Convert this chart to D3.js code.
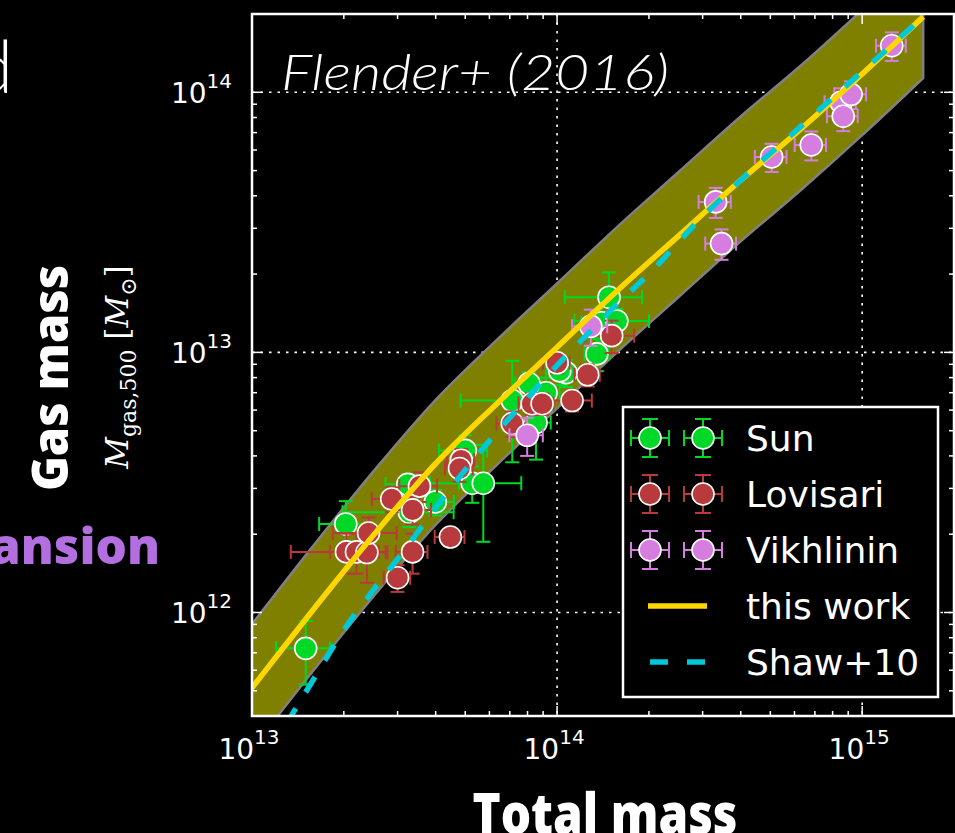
<!DOCTYPE html>
<html>
<head>
<meta charset="utf-8">
<script src="https://cdn.jsdelivr.net/npm/d3@7/dist/d3.min.js"></script>
<style>
html, body { margin: 0; padding: 0; background: #000; }
svg { display: block; }
</style>
</head>
<body>
<svg id="chart" width="955" height="833"></svg>
<script>
// axis limits and tick labels
var xDomain = [1e13, 2e15];
var yDomain = [4e11, 2e14];
var xTickExp = ["13", "14", "15"];
var yTickExp = ["12", "13", "14"];

// Sun et al. (green)
var sunM      = [1.50e13, 2.03e13, 3.24e13, 3.28e13, 3.99e13, 5.00e13, 5.27e13, 5.73e13, 7.13e13, 8.53e13, 9.20e13, 8.09e13, 1.07e14, 1.02e14, 1.35e14, 1.40e14, 1.48e14, 1.57e14];
var sunMgas   = [7.28e11, 2.19e12, 3.11e12, 2.43e12, 2.66e12, 4.20e12, 3.14e12, 3.14e12, 6.53e12, 5.37e12, 7.00e12, 7.59e12, 8.36e12, 8.49e12, 9.87e12, 1.30e13, 1.63e13, 1.32e13];
var sunMerr   = [0.30e13, 0.37e13, 0.50e13, 1.30e13, 0.60e13, 0.90e13, 0.50e13, 1.90e13, 2.30e13, 1.00e13, 1.00e13, 0.80e13, 1.50e13, 1.00e13, 1.20e13, 2.00e13, 4.20e13, 4.30e13];
var sunMgasErr= [0.20e12, 0.49e12, 0.30e12, 0.30e12, 0.30e12, 0.60e12, 0.50e12, 1.27e12, 2.75e12, 1.50e12, 1.00e12, 0.80e12, 1.00e12, 1.00e12, 1.40e12, 2.00e12, 4.00e12, 1.50e12];

// Lovisari et al. (red)
var lovM      = [2.04e13, 2.20e13, 2.38e13, 2.41e13, 2.87e13, 3.36e13, 3.54e13, 3.36e13, 3.00e13, 4.47e13, 4.85e13, 4.79e13, 7.13e13, 8.28e13, 8.93e13, 1.12e14, 1.26e14, 1.00e14, 1.51e14];
var lovMgas   = [1.71e12, 1.71e12, 1.70e12, 2.02e12, 2.73e12, 2.48e12, 3.06e12, 1.71e12, 1.36e12, 1.95e12, 3.85e12, 3.58e12, 5.33e12, 6.35e12, 6.35e12, 6.53e12, 8.20e12, 9.12e12, 1.16e13];
var lovMerr   = [0.70e13, 0.40e13, 0.40e13, 0.57e13, 0.40e13, 0.50e13, 0.50e13, 0.40e13, 0.30e13, 0.50e13, 0.50e13, 0.50e13, 0.80e13, 0.80e13, 0.80e13, 1.80e13, 1.20e13, 1.00e13, 2.80e13];
var lovMgasErr= [0.30e12, 0.30e12, 0.40e12, 0.30e12, 0.30e12, 0.30e12, 0.40e12, 0.30e12, 0.16e12, 0.10e12, 0.40e12, 0.40e12, 0.60e12, 0.60e12, 0.60e12, 0.60e12, 0.80e12, 0.80e12, 1.65e12];

// Vikhlinin et al. (violet)
var vikM      = [7.98e13, 1.29e14, 3.31e14, 3.46e14, 5.05e14, 6.81e14, 8.53e14, 8.67e14, 9.20e14, 1.25e15];
var vikMgas   = [4.80e12, 1.26e13, 3.79e13, 2.62e13, 5.64e13, 6.27e13, 9.16e13, 8.09e13, 9.82e13, 1.51e14];
var vikMerr   = [0.10e14, 0.17e14, 0.40e14, 0.40e14, 0.60e14, 0.80e14, 1.00e14, 1.00e14, 1.10e14, 1.40e14];
var vikMgasErr= [0.80e12, 0.20e13, 0.50e13, 0.35e13, 0.70e13, 0.80e13, 1.20e13, 1.00e13, 1.20e13, 1.90e13];

// this work: median relation and scatter band
var workM     = [7.94e12, 1.00e13, 1.585e13, 2.512e13, 3.981e13, 6.31e13, 1.00e14, 1.585e14, 2.512e14, 3.981e14, 6.31e14, 1.00e15, 1.585e15];
var workMgas  = [3.63e11, 5.13e11, 1.023e12, 1.995e12, 3.715e12, 6.31e12, 1.047e13, 1.738e13, 2.818e13, 4.571e13, 7.244e13, 1.175e14, 1.95e14];
var workHi    = [6.38e11, 9.02e11, 1.80e12, 3.51e12, 6.53e12, 1.11e13, 1.84e13, 3.06e13, 4.96e13, 8.04e13, 1.27e14, 2.07e14, 3.43e14];
var workLo    = [2.11e11, 2.99e11, 5.96e11, 1.16e12, 2.16e12, 3.67e12, 6.10e12, 1.01e13, 1.64e13, 2.66e13, 4.22e13, 6.84e13, 1.135e14];

// Shaw+10
var shawM     = [1.122e13, 1.585e13, 1.995e13, 2.512e13, 3.162e13, 3.981e13, 5.012e13, 6.31e13, 7.943e13, 1.00e14, 1.259e14, 1.585e14, 1.995e14, 2.818e14, 3.981e14, 6.31e14, 1.00e15, 1.585e15];
var shawMgas  = [2.818e11, 5.495e11, 8.511e11, 1.230e12, 1.738e12, 2.512e12, 3.548e12, 4.898e12, 6.607e12, 8.913e12, 1.175e13, 1.549e13, 1.995e13, 3.090e13, 4.571e13, 7.413e13, 1.202e14, 1.950e14];

var legendNames = ["Sun", "Lovisari", "Vikhlinin", "this work", "Shaw+10"];

var green = "#00d828", red = "#b83a3c", violet = "#d67ee0";
var gold = "#ffd700", cyan = "#00c8d8";

var svg = d3.select("#chart");
svg.append("rect").attr("width", 955).attr("height", 833).attr("fill", "#000");

var x = d3.scaleLog().domain(xDomain).range([252, 954]);
var y = d3.scaleLog().domain(yDomain).range([716, 14]);
var x0 = x.range()[0], x1 = x.range()[1], y0 = y.range()[1], y1 = y.range()[0];

svg.append("defs").append("clipPath").attr("id", "plotclip")
    .append("rect").attr("x", x0).attr("y", y0).attr("width", x1 - x0).attr("height", y1 - y0);

var isMajor = function(v){ return Math.abs(Math.log10(v) - Math.round(Math.log10(v))) < 1e-6; };
var xt = x.ticks().filter(function(v){ return v >= xDomain[0] && v <= xDomain[1]; });
var yt = y.ticks().filter(function(v){ return v >= yDomain[0] && v <= yDomain[1]; });

// grid
var grid = svg.append("g").attr("clip-path", "url(#plotclip)")
    .style("stroke", "#fff").style("stroke-width", "1.6px").style("stroke-dasharray", "2.5,6");
xt.filter(isMajor).forEach(function(v){
    grid.append("line").attr("x1", x(v)).attr("x2", x(v)).attr("y1", y0).attr("y2", y1);
});
yt.filter(isMajor).forEach(function(v){
    grid.append("line").attr("y1", y(v)).attr("y2", y(v)).attr("x1", x0).attr("x2", x1);
});

var plot = svg.append("g").attr("clip-path", "url(#plotclip)");

// scatter band
var band = workM.map(function(m, i){ return {m: m, lo: workLo[i], hi: workHi[i]}; });
plot.append("path").datum(band)
    .attr("d", d3.area().curve(d3.curveMonotoneX)
        .x(function(d){ return x(d.m); }).y0(function(d){ return y(d.lo); }).y1(function(d){ return y(d.hi); }))
    .style("fill", "#808000").style("stroke", "#808080").style("stroke-width", "2.5px");

// data with error bars
function draw_series(M, Mg, Merr, Mgerr, color){
    var g = plot.append("g");
    var eb = g.append("g").style("stroke", color).style("stroke-width", "2px");
    for (var i = 0; i < M.length; i++){
        var cx = x(M[i]), cy = y(Mg[i]);
        var xl = x(M[i] - Merr[i]), xr = x(M[i] + Merr[i]);
        var yt_ = y(Mg[i] + Mgerr[i]), yb = y(Mg[i] - Mgerr[i]);
        eb.append("line").attr("x1", xl).attr("x2", xr).attr("y1", cy).attr("y2", cy);
        eb.append("line").attr("x1", cx).attr("x2", cx).attr("y1", yt_).attr("y2", yb);
        eb.append("line").attr("x1", xl).attr("x2", xl).attr("y1", cy - 7).attr("y2", cy + 7);
        eb.append("line").attr("x1", xr).attr("x2", xr).attr("y1", cy - 7).attr("y2", cy + 7);
        eb.append("line").attr("x1", cx - 7).attr("x2", cx + 7).attr("y1", yt_).attr("y2", yt_);
        eb.append("line").attr("x1", cx - 7).attr("x2", cx + 7).attr("y1", yb).attr("y2", yb);
    }
    g.selectAll("circle").data(M).enter().append("circle")
        .attr("cx", function(d){ return x(d); })
        .attr("cy", function(d, i){ return y(Mg[i]); })
        .attr("r", 11)
        .style("fill", color).style("stroke", "#fff").style("stroke-width", "1.6px");
}
draw_series(sunM, sunMgas, sunMerr, sunMgasErr, green);
draw_series(lovM, lovMgas, lovMerr, lovMgasErr, red);
draw_series(vikM, vikMgas, vikMerr, vikMgasErr, violet);

// model lines
var line = d3.line().curve(d3.curveMonotoneX).x(function(d){ return x(d[0]); }).y(function(d){ return y(d[1]); });
plot.append("path").datum(workM.map(function(m, i){ return [m, workMgas[i]]; }))
    .attr("d", line).style("fill", "none").style("stroke", gold).style("stroke-width", "5.5px");
plot.append("path").datum(shawM.map(function(m, i){ return [m, shawMgas[i]]; }))
    .attr("d", line).style("fill", "none").style("stroke", cyan).style("stroke-width", "5.5px")
    .style("stroke-dasharray", "18,19");

// ticks (inward, all four sides)
var ticks = svg.append("g").style("stroke", "#fff").style("stroke-width", "1.5px");
xt.forEach(function(v){
    var len = isMajor(v) ? 10 : 5;
    ticks.append("line").attr("x1", x(v)).attr("x2", x(v)).attr("y1", y1).attr("y2", y1 - len);
    ticks.append("line").attr("x1", x(v)).attr("x2", x(v)).attr("y1", y0).attr("y2", y0 + len);
});
yt.forEach(function(v){
    var len = isMajor(v) ? 10 : 5;
    ticks.append("line").attr("y1", y(v)).attr("y2", y(v)).attr("x1", x0).attr("x2", x0 + len);
    ticks.append("line").attr("y1", y(v)).attr("y2", y(v)).attr("x1", x1).attr("x2", x1 - len);
});

// frame
svg.append("rect").attr("x", x0).attr("y", y0).attr("width", x1 - x0).attr("height", y1 - y0)
    .style("fill", "none").style("stroke", "#fff").style("stroke-width", "2.5px");

// tick labels
var tl = svg.append("g").style("fill", "#fff").style("font-family", "'DejaVu Sans', sans-serif");
xt.filter(isMajor).forEach(function(v, i){
    var t = tl.append("text").attr("x", x(v) - 3).attr("y", 759).attr("text-anchor", "middle").style("font-size", "28px");
    t.append("tspan").text("10");
    t.append("tspan").attr("dy", -15).style("font-size", "20px").text(xTickExp[i]);
});
yt.filter(isMajor).forEach(function(v, i){
    var t = tl.append("text").attr("x", 232).attr("y", y(v) + 11).attr("text-anchor", "end").style("font-size", "28px");
    t.append("tspan").text("10");
    t.append("tspan").attr("dy", -15).style("font-size", "20px").text(yTickExp[i]);
});

// legend
var lg = svg.append("g");
lg.append("rect").attr("x", 623).attr("y", 407).attr("width", 315).attr("height", 290)
    .style("fill", "#000").style("stroke", "#fff").style("stroke-width", "2.5px");
var legendColors = [green, red, violet];
legendNames.forEach(function(name, i){
    var ly = 438 + i * 56;
    if (i < 3){
        [650, 703].forEach(function(lx){
            var e = lg.append("g").style("stroke", legendColors[i]).style("stroke-width", "2px");
            e.append("line").attr("x1", lx - 19).attr("x2", lx + 19).attr("y1", ly).attr("y2", ly);
            e.append("line").attr("x1", lx).attr("x2", lx).attr("y1", ly - 19).attr("y2", ly + 19);
            e.append("line").attr("x1", lx - 19).attr("x2", lx - 19).attr("y1", ly - 8).attr("y2", ly + 8);
            e.append("line").attr("x1", lx + 19).attr("x2", lx + 19).attr("y1", ly - 8).attr("y2", ly + 8);
            e.append("line").attr("x1", lx - 8).attr("x2", lx + 8).attr("y1", ly - 19).attr("y2", ly - 19);
            e.append("line").attr("x1", lx - 8).attr("x2", lx + 8).attr("y1", ly + 19).attr("y2", ly + 19);
            lg.append("circle").attr("cx", lx).attr("cy", ly).attr("r", 11)
                .style("fill", legendColors[i]).style("stroke", "#fff").style("stroke-width", "1.6px");
        });
    } else if (i == 3){
        lg.append("line").attr("x1", 648).attr("x2", 707).attr("y1", ly).attr("y2", ly)
            .style("stroke", gold).style("stroke-width", "5.5px");
    } else {
        lg.append("line").attr("x1", 650).attr("x2", 705).attr("y1", ly).attr("y2", ly)
            .style("stroke", cyan).style("stroke-width", "5.5px").style("stroke-dasharray", "18,19");
    }
    lg.append("text").attr("x", 746).attr("y", ly + 13).text(name)
        .style("fill", "#fff").style("font-family", "'DejaVu Sans', sans-serif").style("font-size", "36px");
});

// annotations
svg.append("text").attr("x", 281).attr("y", 90).text("Flender+ (2016)")
    .attr("textLength", 388).attr("lengthAdjust", "spacingAndGlyphs")
    .style("fill", "#fff").style("font-family", "Lato, 'Open Sans', sans-serif")
    .style("font-style", "italic").style("font-weight", 300).style("font-size", "50px");

svg.append("text").attr("transform", "translate(68,378) rotate(-90)").attr("text-anchor", "middle")
    .attr("textLength", 226).attr("lengthAdjust", "spacingAndGlyphs")
    .text("Gas mass").style("fill", "#fff").style("font-family", "'Open Sans', sans-serif")
    .style("font-weight", 800).style("font-size", "50px");

var ml = svg.append("text").attr("transform", "translate(128,367) rotate(-90)").attr("text-anchor", "middle")
    .style("fill", "#fff").style("font-family", "'DejaVu Serif', 'Liberation Serif', serif").style("font-size", "31px");
ml.append("tspan").style("font-style", "italic").text("M");
ml.append("tspan").attr("dy", 8).style("font-size", "22px").text("gas,500");
ml.append("tspan").attr("dy", -8).text(" [");
ml.append("tspan").style("font-style", "italic").text("M");
ml.append("tspan").attr("dy", 8).style("font-size", "22px").text("\u2299");
ml.append("tspan").attr("dy", -8).text("]");

svg.append("text").attr("x", 605).attr("y", 834).attr("text-anchor", "middle")
    .attr("textLength", 265).attr("lengthAdjust", "spacingAndGlyphs")
    .text("Total mass").style("fill", "#fff").style("font-family", "'Open Sans', sans-serif")
    .style("font-weight", 800).style("font-size", "56px");

svg.append("text").attr("x", 160).attr("y", 564).attr("text-anchor", "end")
    .attr("textLength", 170).attr("lengthAdjust", "spacingAndGlyphs")
    .text("ansion").style("fill", "#b36ee0").style("font-family", "'Open Sans', sans-serif")
    .style("font-weight", 800).style("font-size", "50px");

svg.append("text").attr("x", 13).attr("y", 93).attr("text-anchor", "end")
    .text("d").style("fill", "#fff").style("font-family", "Lato, sans-serif")
    .style("font-weight", 300).style("font-size", "72px");
</script>
</body>
</html>
